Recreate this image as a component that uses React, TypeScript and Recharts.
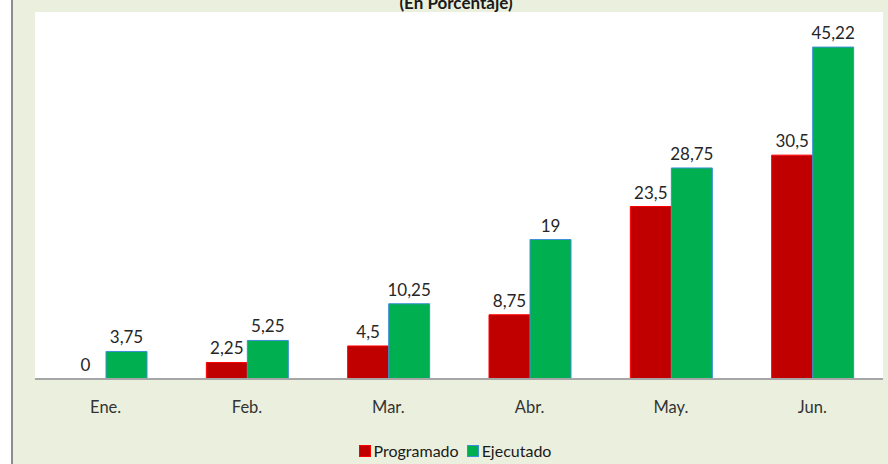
import React from "react";
import { BarChart, Bar, XAxis, YAxis, CartesianGrid, LabelList, Legend, Cell } from "recharts";

const months = ["Ene.", "Feb.", "Mar.", "Abr.", "May.", "Jun."];
const programado = [0, 2.25, 4.5, 8.75, 23.5, 30.5];
const ejecutado = [3.75, 5.25, 10.25, 19, 28.75, 45.22];
const title = "(En Porcentaje)";

const data = months.map((m, i) => ({
  mes: m,
  programado: programado[i],
  ejecutado: ejecutado[i],
}));

const FONT = "Lato, 'Noto Sans', sans-serif";
const BG = "#ebf0de";
const RED = "#c00000";
const GREEN = "#00b050";

const fmt = (v: any) => String(v).replace(".", ",");

function LegendBox() {
  const items = [
    { label: "Programado", color: RED, stroke: "#ff0000" },
    { label: "Ejecutado", color: GREEN, stroke: "#3d8fd6" },
  ];
  return (
    <div
      style={{
        display: "flex",
        justifyContent: "center",
        gap: 8,
        marginLeft: -8,
        fontFamily: FONT,
        fontSize: 16,
        color: "#1a1a1a",
        lineHeight: "20px",
      }}
    >
      {items.map((it) => (
        <div key={it.label} style={{ display: "flex", alignItems: "center", gap: 3 }}>
          <span
            style={{
              display: "inline-block",
              width: 10,
              height: 10,
              background: it.color,
              border: `1px solid ${it.stroke}`,
            }}
          />
          <span>{it.label}</span>
        </div>
      ))}
    </div>
  );
}

export default function App() {
  return (
    <div style={{ position: "absolute", left: 0, top: 0, width: 888, height: 464, background: "#fff", overflow: "hidden" }}>
      <div
        style={{
          position: "absolute",
          left: 11,
          top: 0,
          width: 875,
          height: 464,
          background: BG,
          borderLeft: "2px solid #8c8c8c",
        }}
      >
        <div
          style={{
            position: "absolute",
            top: -6,
            left: 0,
            width: 886,
            textAlign: "center",
            fontFamily: FONT,
            fontWeight: 700,
            fontSize: 17,
            lineHeight: "17px",
            color: "#1a1a1a",
          }}
        >
          {title}
        </div>
        <BarChart
          width={875}
          height={464}
          data={data}
          margin={{ top: 12, right: 5, left: 22, bottom: 20 }}
          barCategoryGap={30}
          barGap={0}
        >
          <CartesianGrid fill="#ffffff" horizontal={false} vertical={false} />
          <YAxis hide domain={[0, 50]} />
          <XAxis
            dataKey="mes"
            height={42}
            axisLine={{ stroke: "#a6a6a6", strokeWidth: 2 }}
            tickLine={false}
            tickMargin={16}
            tick={{ fill: "#333333", fontSize: 16.5, fontFamily: FONT }}
          />
          <Legend verticalAlign="bottom" height={23} wrapperStyle={{ bottom: 0 }} content={() => <LegendBox />} />
          <Bar
            dataKey="programado"
            name="Programado"
            fill={RED}
            stroke="#ff0000"
            strokeWidth={1}
            minPointSize={(v: any) => (v === 0 ? 0.01 : 0)}
            isAnimationActive={false}
          >
            {data.map((d, i) => (
              <Cell key={i} stroke={d.programado === 0 ? "none" : "#ff0000"} />
            ))}
            <LabelList dataKey="programado" position="top" offset={8} formatter={fmt} fill="#262626" fontSize={17} fontFamily={FONT} />
          </Bar>
          <Bar dataKey="ejecutado" name="Ejecutado" fill={GREEN} stroke="#3d8fd6" strokeWidth={1} isAnimationActive={false}>
            <LabelList dataKey="ejecutado" position="top" offset={8} formatter={fmt} fill="#262626" fontSize={17} fontFamily={FONT} />
          </Bar>
        </BarChart>
      </div>
    </div>
  );
}
